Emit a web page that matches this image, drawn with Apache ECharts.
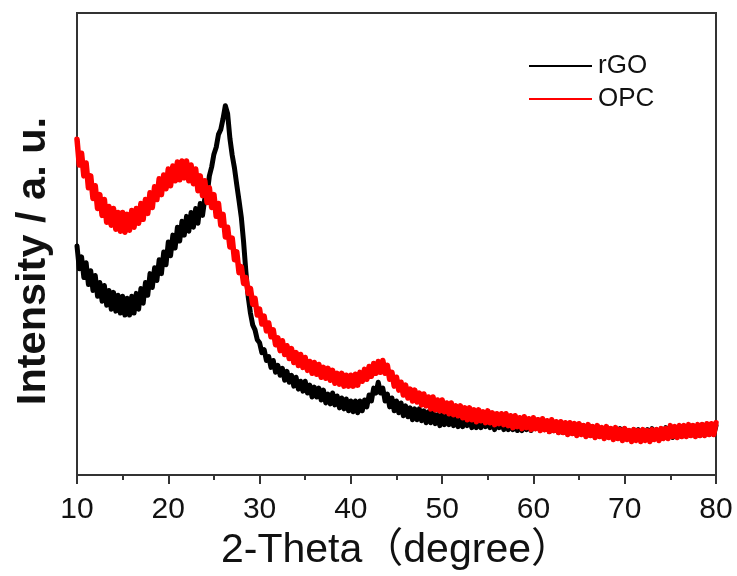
<!DOCTYPE html>
<html>
<head>
<meta charset="utf-8">
<script src="https://cdn.jsdelivr.net/npm/echarts@6/dist/echarts.min.js"></script>
<style>html,body{margin:0;padding:0;background:#fff}#c{width:737px;height:576px}</style>
</head>
<body>
<div id="c"></div>
<script>
// 2-Theta sampling grid (degrees)
var thetaStart = 10;
var thetaStep = 0.25;
var xTicks = [10, 20, 30, 40, 50, 60, 70, 80];
var seriesNames = ['rGO', 'OPC'];

// Intensity (a.u.), one value per 0.25 degree from 10 to 80
var rGO = [
232,209,221,200, 215,193,207,187, 202,181,195,176, 192,172,187,168, 185,166,182,164,
181,162,179,162, 181,164,184,168, 189,174,195,182, 204,190,210,197, 218,204,226,213,
236,222,243,230, 251,237,257,243, 262,247,266,251, 270,255,275,263, 280,284,303,312,
325,332,345,350, 361,374,366,341, 324,311,294,278, 261,236,206,181, 164,152,147,137,
134,124,127,116, 120,109,116,104, 111,101,108,96, 105,94,101,90, 99,87,95,85,
95,83,91,79, 89,79,88,76, 86,73,82,72, 83,71,80,68, 78,67,77,65,
75,64,75,63, 75,65,76,69, 81,75,88,83, 94,83,88,75, 82,69,78,65,
75,63,73,60, 70,59,68,56, 67,56,67,55, 65,53,64,53, 64,52,61,50,
61,51,60,51, 60,50,60,49, 58,49,59,50, 58,48,59,48, 57,48,58,49,
58,48,56,46, 57,48,57,46, 55,46,55,46, 55,45,54,45, 56,46,55,45,
56,47,56,46, 56,46,54,44, 54,45,53,43, 52,43,52,43, 52,42,50,41,
51,42,50,40, 49,40,49,40, 49,39,47,38, 48,39,47,37, 46,37,47,38,
47,37,45,36, 46,37,46,36, 45,36,46,38, 47,37,46,37, 47,38,48,38,
47,38,48,39, 48,39,48,40, 49,40,50,40, 49,40,51,42, 51,41,50,41,
50
];
var OPC = [
340,314,326,303, 316,291,303,280, 293,270,284,263, 279,256,272,253, 270,249,266,247,
266,246,264,248, 268,251,270,255, 275,259,279,265, 286,271,292,279, 300,284,304,290,
310,293,313,298, 317,299,318,301, 318,298,314,295, 310,288,303,283, 298,276,291,271,
284,262,275,253, 264,241,251,231, 240,218,226,205, 211,194,200,184, 189,173,179,162,
168,153,161,146, 154,140,147,132, 139,126,136,122, 131,118,128,114, 124,111,122,109,
119,106,115,103, 114,102,112,99, 109,98,108,96, 106,93,103,92, 103,90,101,90,
101,90,102,91, 104,95,107,97, 110,100,113,103, 115,104,116,103, 111,97,104,90,
99,86,94,81, 91,78,87,75, 86,74,83,71, 82,70,79,67, 79,66,76,65,
76,64,73,62, 73,61,70,60, 70,58,68,56, 68,56,66,54, 66,55,64,53,
65,53,63,51, 62,52,62,51, 62,50,60,48, 60,49,58,47, 59,48,57,46,
58,47,56,45, 57,46,55,44, 56,45,54,43, 54,43,53,41, 53,42,52,40,
52,41,50,39, 51,40,49,38, 50,39,48,37, 49,38,47,36, 48,37,46,35,
47,36,45,34, 46,35,45,34, 46,35,45,34, 46,36,46,35, 47,37,47,37,
50,39,49,38, 50,39,50,39, 51,40,50,39, 51,40,51,40, 52,41,52,41,
53
];

function pairs(vals) {
  return vals.map(function (v, i) { return [thetaStart + i * thetaStep, v]; });
}

var chart = echarts.init(document.getElementById('c'), null, {renderer: 'canvas'});
var axisColor = '#333333';
var fontFam = '"Liberation Sans", Arial, "Noto Sans CJK SC", sans-serif';

chart.setOption({
  animation: false,
  backgroundColor: '#ffffff',
  grid: {
    left: 77, right: 21, top: 13, bottom: 95,
    show: true, borderColor: axisColor, borderWidth: 2, backgroundColor: 'transparent'
  },
  legend: {
    orient: 'vertical',
    left: 529, top: 53,
    padding: 0,
    itemWidth: 63, itemHeight: 14, itemGap: 7,
    icon: 'path://M0,6 L63,6 L63,8 L0,8 Z',
    textStyle: {fontSize: 26, color: '#111', fontFamily: fontFam, padding: [0, 0, 0, 1]},
    data: seriesNames
  },
  xAxis: {
    type: 'value',
    min: xTicks[0], max: xTicks[xTicks.length - 1], interval: 10,
    name: '2-Theta（degree）',
    nameLocation: 'middle', nameGap: 55,
    nameTextStyle: {fontSize: 41, color: '#111', fontFamily: fontFam},
    axisLine: {show: true, lineStyle: {color: axisColor, width: 2}},
    axisTick: {show: true, inside: false, length: 9, lineStyle: {color: axisColor, width: 2}},
    minorTick: {show: true, splitNumber: 2, length: 5, lineStyle: {color: axisColor, width: 2}},
    axisLabel: {fontSize: 30, color: '#111', margin: 20, fontFamily: fontFam},
    splitLine: {show: false}
  },
  yAxis: {
    type: 'value', min: 0, max: 468,
    axisLine: {show: true, lineStyle: {color: axisColor, width: 2}},
    axisTick: {show: false},
    axisLabel: {show: false},
    splitLine: {show: false}
  },
  graphic: [{
    type: 'text',
    x: 34, y: 261,
    rotation: Math.PI / 2,
    style: {
      text: 'Intensity / a. u.',
      font: 'bold 41.5px "Liberation Sans", Arial, sans-serif',
      fill: '#111',
      textAlign: 'center',
      textVerticalAlign: 'middle'
    }
  }],
  series: [
    {
      name: seriesNames[0], type: 'line', data: pairs(rGO),
      showSymbol: false, symbol: 'none',
      lineStyle: {color: '#000000', width: 5, join: 'round', cap: 'round'},
      itemStyle: {color: '#000000'}
    },
    {
      name: seriesNames[1], type: 'line', data: pairs(OPC),
      showSymbol: false, symbol: 'none',
      lineStyle: {color: '#ff0000', width: 5.5, join: 'round', cap: 'round'},
      itemStyle: {color: '#ff0000'}
    }
  ]
});
</script>
</body>
</html>
